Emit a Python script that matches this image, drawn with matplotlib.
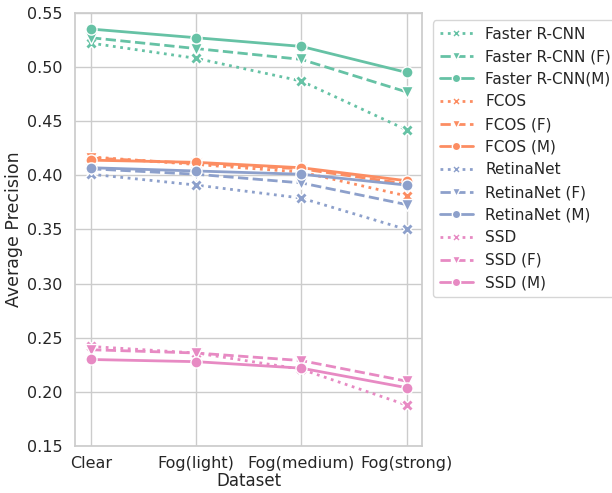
import matplotlib
matplotlib.use("Agg")
import matplotlib.pyplot as plt
import seaborn as sns

datasets = ["Clear", "Fog(light)", "Fog(medium)", "Fog(strong)"]

faster = [0.522, 0.508, 0.487, 0.442]
faster_f = [0.527, 0.517, 0.507, 0.477]
faster_m = [0.535, 0.527, 0.519, 0.495]
fcos = [0.417, 0.410, 0.403, 0.381]
fcos_f = [0.416, 0.411, 0.406, 0.392]
fcos_m = [0.414, 0.412, 0.407, 0.395]
retina = [0.401, 0.391, 0.379, 0.350]
retina_f = [0.406, 0.401, 0.393, 0.373]
retina_m = [0.407, 0.404, 0.401, 0.391]
ssd = [0.242, 0.236, 0.221, 0.188]
ssd_f = [0.239, 0.236, 0.229, 0.210]
ssd_m = [0.230, 0.228, 0.222, 0.204]

series = [
    ("Faster R-CNN", faster), ("Faster R-CNN (F)", faster_f), ("Faster R-CNN(M)", faster_m),
    ("FCOS", fcos), ("FCOS (F)", fcos_f), ("FCOS (M)", fcos_m),
    ("RetinaNet", retina), ("RetinaNet (F)", retina_f), ("RetinaNet (M)", retina_m),
    ("SSD", ssd), ("SSD (F)", ssd_f), ("SSD (M)", ssd_m),
]

sns.set_theme(style="whitegrid")
colors = sns.color_palette("Set2")
styles = [(":", "X"), ("--", "v"), ("-", "o")]

fig = plt.figure(figsize=(6.12, 4.93), dpi=100)
ax = fig.add_axes([0.123, 0.095, 0.567, 0.879])

for i, (name, vals) in enumerate(series):
    ls, mk = styles[i % 3]
    ax.plot(datasets, vals, linestyle=ls, marker=mk, color=colors[i // 3],
            linewidth=2, markersize=8, markeredgecolor="white",
            markeredgewidth=1, label=name)

ax.set_ylim(0.15, 0.55)
ax.tick_params(labelsize=11.5, pad=3)
ax.tick_params(axis="x", pad=1)
ax.set_xlabel("Dataset", fontsize=12, labelpad=1)
ax.set_ylabel("Average Precision", fontsize=12.5, labelpad=3)
ax.legend(loc="upper left", bbox_to_anchor=(1.01, 1.0), fontsize=11,
          markerscale=0.75, handlelength=2.2)

fig.savefig("out.png", dpi=100)
